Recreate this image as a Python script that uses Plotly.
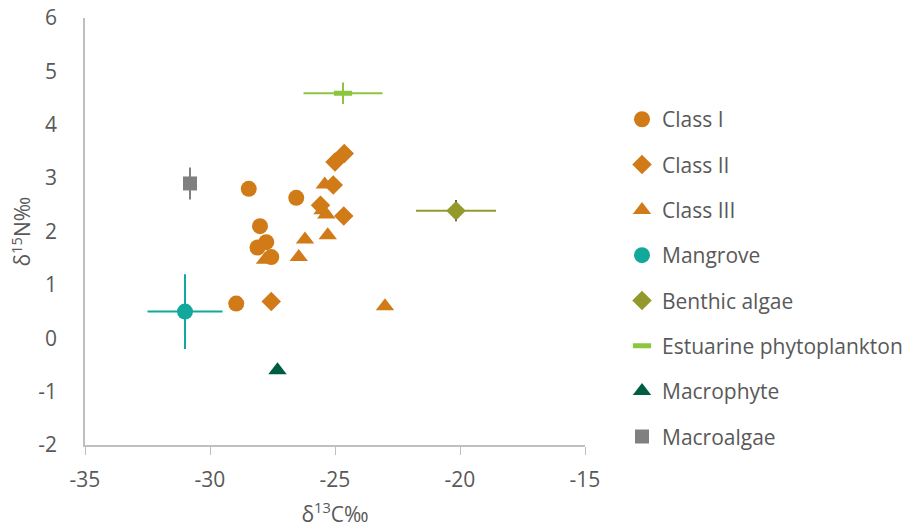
import plotly.graph_objects as go

# ---- data ----
c1_x = [-28.45, -26.55, -28.0, -27.75, -28.1, -27.55, -28.95]
c1_y = [2.8, 2.63, 2.1, 1.8, 1.7, 1.52, 0.65]

c2_x = [-24.63, -25.0, -25.07, -25.58, -24.65, -27.55]
c2_y = [3.46, 3.30, 2.87, 2.49, 2.29, 0.69]

c3_x = [-25.41, -25.5, -25.35, -25.29, -26.2, -26.45, -27.8, -23.0]
c3_y = [2.88, 2.40, 2.32, 1.93, 1.85, 1.52, 1.47, 0.60]

mangrove_x, mangrove_y = [-31.0], [0.5]
mangrove_ex, mangrove_ey = [1.5], [0.7]

benthic_x, benthic_y = [-20.16], [2.39]
benthic_ex, benthic_ey = [1.6], [0.2]

estu_x, estu_y = [-24.68], [4.59]
estu_ex, estu_ey = [1.58], [0.2]

macrophyte_x, macrophyte_y = [-27.3], [-0.6]

macroalgae_x, macroalgae_y = [-30.8], [2.9]
macroalgae_ey = [0.3]

x_ticks = [-35, -30, -25, -20, -15]
x_labels = ["-35", "-30", "-25", "-20", "-15"]
y_ticks = [-2, -1, 0, 1, 2, 3, 4, 5, 6]
y_labels = ["-2", "-1", "0", "1", "2", "3", "4", "5", "6"]

ORANGE = "#D07A18"
TEAL = "#12A99C"
OLIVE = "#939A2B"
LGREEN = "#8CC63F"
DGREEN = "#005C42"
GREY = "#808080"
TXT = "#595959"
FS = 21

fig = go.Figure()

fig.add_trace(go.Scatter(x=c3_x, y=c3_y, mode="markers", name="Class III",
                         marker=dict(symbol="triangle-up", size=16, color=ORANGE),
                         legendrank=3, legendgroup="c3"))
fig.add_trace(go.Scatter(x=c1_x, y=c1_y, mode="markers", name="Class I",
                         marker=dict(symbol="circle", size=16, color=ORANGE),
                         legendrank=1, legendgroup="c1"))
fig.add_trace(go.Scatter(x=c2_x, y=c2_y, mode="markers", name="Class II",
                         marker=dict(symbol="diamond", size=15, color=ORANGE),
                         legendrank=2, legendgroup="c2"))
fig.add_trace(go.Scatter(x=mangrove_x, y=mangrove_y, mode="markers", name="Mangrove",
                         marker=dict(symbol="circle", size=16, color=TEAL),
                         error_x=dict(type="data", array=mangrove_ex, color=TEAL, thickness=2, width=0),
                         error_y=dict(type="data", array=mangrove_ey, color=TEAL, thickness=2, width=0),
                         legendrank=4, legendgroup="m"))
fig.add_trace(go.Scatter(x=benthic_x, y=benthic_y, mode="markers", name="Benthic algae",
                         marker=dict(symbol="diamond", size=15, color=OLIVE),
                         error_x=dict(type="data", array=benthic_ex, color=OLIVE, thickness=2, width=0),
                         error_y=dict(type="data", array=benthic_ey, color="#595959", thickness=2, width=0),
                         legendrank=5, legendgroup="b"))
fig.add_trace(go.Scatter(x=estu_x, y=estu_y, mode="markers", name="Estuarine phytoplankton",
                         marker=dict(symbol="line-ew", size=13, color=LGREEN,
                                     line=dict(color=LGREEN, width=5)),
                         error_x=dict(type="data", array=estu_ex, color=LGREEN, thickness=2, width=0),
                         error_y=dict(type="data", array=estu_ey, color=LGREEN, thickness=2, width=0),
                         legendrank=6, legendgroup="e"))
fig.add_trace(go.Scatter(x=macrophyte_x, y=macrophyte_y, mode="markers", name="Macrophyte",
                         marker=dict(symbol="triangle-up", size=16, color=DGREEN),
                         legendrank=7, legendgroup="mp"))
fig.add_trace(go.Scatter(x=macroalgae_x, y=macroalgae_y, mode="markers", name="Macroalgae",
                         marker=dict(symbol="square", size=14, color=GREY),
                         error_y=dict(type="data", array=macroalgae_ey, color=GREY, thickness=2, width=0),
                         legendrank=8, legendgroup="ma"))

fig.update_layout(
    width=905, height=529,
    margin=dict(l=85, r=320, t=18, b=84, autoexpand=False),
    paper_bgcolor="white", plot_bgcolor="white",
    font=dict(family="Open Sans", size=FS, color=TXT),
    showlegend=True,
    legend=dict(x=1.074, y=0.810, xanchor="left", yanchor="top",
                font=dict(family="Open Sans", size=FS, color=TXT),
                tracegroupgap=15, itemwidth=30, bgcolor="rgba(0,0,0,0)"),
    annotations=[dict(text="δ<sup>15</sup>N‰", xref="paper", yref="paper",
                      x=-0.128, y=0.5, xanchor="center", yanchor="middle",
                      textangle=-90, showarrow=False,
                      font=dict(family="Open Sans", size=FS, color=TXT))],
)
fig.update_xaxes(range=[-35, -15], tickvals=x_ticks, ticktext=x_labels,
                 showgrid=False, zeroline=False,
                 showline=True, linecolor="#BFBFBF", linewidth=1.5,
                 ticks="outside", tickcolor="#BFBFBF", ticklen=8, ticklabelstandoff=7,
                 ticklabeloverflow="allow",
                 tickfont=dict(size=FS, color=TXT), automargin=False,
                 title=dict(text="δ<sup>13</sup>C‰", font=dict(size=FS, color=TXT), standoff=15))
fig.update_yaxes(range=[-2, 6], tickvals=y_ticks, ticktext=y_labels,
                 showgrid=False, zeroline=False,
                 showline=True, linecolor="#BFBFBF", linewidth=1.5,
                 ticks="", ticklabelstandoff=22, automargin=False,
                 ticklabeloverflow="allow",
                 tickfont=dict(size=FS, color=TXT))

fig.write_html("out.html", config={"displayModeBar": False},
               post_script="document.body.style.margin='0';")
